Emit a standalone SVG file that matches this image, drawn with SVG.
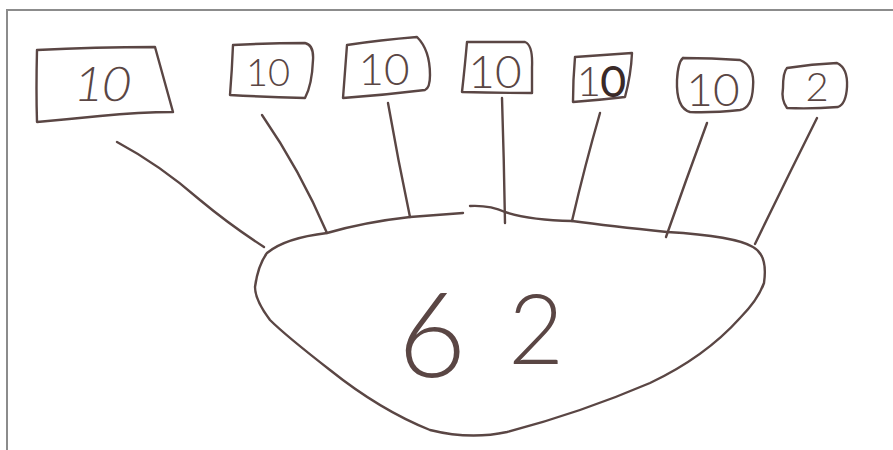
<svg xmlns="http://www.w3.org/2000/svg" width="893" height="450" viewBox="0 0 893 450">
<style>
.pen{fill:none;stroke:#5a4644;stroke-width:2.4;stroke-linecap:round;stroke-linejoin:round}
.lbl{font-family:Lato,"Liberation Sans",sans-serif;font-weight:300;fill:#5a4644;text-anchor:middle}
.frame{fill:none;stroke:#8c8c8c;stroke-width:2}
</style>
<rect x="0" y="0" width="893" height="450" fill="#ffffff"/>
<path class="frame" d="M7,450 L7,10 L893,10"/>
<g id="connectors">
<path class="pen" d="M117,142 Q160,165 200,200 Q230,225 264,247"/>
<path class="pen" d="M262,115 Q300,170 327,233"/>
<path class="pen" d="M388,103 Q398,160 410,217"/>
<path class="pen" d="M502,98 Q504,160 505,223"/>
<path class="pen" d="M600,113 Q585,165 572,221"/>
<path class="pen" d="M707,123 Q686,180 666,237"/>
<path class="pen" d="M817,118 Q786,180 755,244"/>
</g>
<g id="box1">
<path class="pen" d="M37,50 Q95,47 155,47 L173,112 Q140,112 100,116 Q70,119 37,122 Q36,90 37,50"/>
<text class="lbl" x="103" y="101" font-size="48" transform="skewX(-8) translate(12,0)">10</text>
</g>
<g id="box2">
<path class="pen" d="M233,45 Q270,43 305,43 Q314,45 313,60 Q312,85 305,98 Q265,97 230,95 Q232,70 233,45"/>
<text class="lbl" x="268" y="86" font-size="38">10</text>
</g>
<g id="box3">
<path class="pen" d="M347,45 Q380,40 417,37 Q430,50 430,75 Q430,88 425,90 Q385,95 343,98 Q345,70 347,45"/>
<text class="lbl" x="384" y="85" font-size="44">10</text>
</g>
<g id="box4">
<path class="pen" d="M467,42 L525,42 Q533,45 532,67 L532,93 Q495,93 462,92 Q465,65 467,42"/>
<text class="lbl" x="495" y="88" font-size="46">10</text>
</g>
<g id="box5">
<path class="pen" d="M575,57 Q605,55 632,53 Q631,75 625,97 Q600,100 573,102 Q573,80 575,57"/>
<text class="lbl" x="601" y="96" font-size="42">1<tspan style="stroke:#3a2a28;stroke-width:2">0</tspan></text>
</g>
<g id="box6">
<path class="pen" d="M683,58 Q712,58 740,60 Q755,66 753,87 Q752,108 740,110 Q712,113 690,112 Q676,108 677,80 Q678,62 683,58"/>
<text class="lbl" x="713" y="106" font-size="46">10</text>
</g>
<g id="box7">
<path class="pen" d="M787,68 Q812,64 837,63 Q848,68 847,87 Q846,104 838,107 Q812,109 787,108 Q781,100 783,88 Q783,72 787,68"/>
<text class="lbl" x="817" y="101" font-size="40">2</text>
</g>
<g id="total">
<path class="pen" d="M255,287 Q258,265 267,253 Q285,238 327,233 Q365,222 410,217 L463,213 M470,206 Q490,205 505,212 Q530,220 572,221 Q610,226 667,232 Q735,236 753,247 Q768,255 764,283 Q758,300 740,318 Q705,357 650,383 Q580,413 507,432 Q470,440 430,430 Q380,410 330,370 Q285,335 270,320 Q255,300 255,287"/>
<text class="lbl" x="432" y="377" font-size="118">6<tspan x="536" y="364" font-size="96">2</tspan></text>
</g>
</svg>
